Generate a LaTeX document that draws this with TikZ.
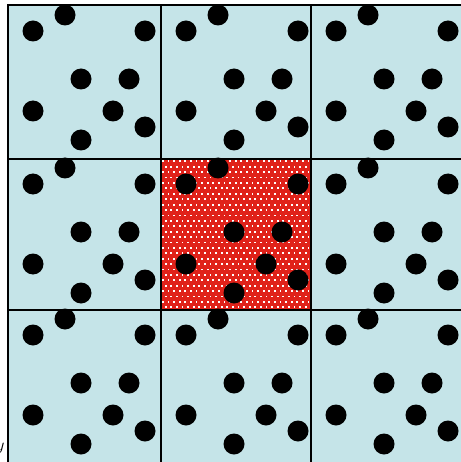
\documentclass[tikz,border=0pt]{standalone}
\usepackage{amsmath}
\definecolor{cellblue}{RGB}{197,228,232}
\definecolor{boxred}{RGB}{224,34,26}
\begin{document}
\begin{tikzpicture}[x=1pt,y=-1pt,
  gridline/.style={black,line width=1.4pt},
  particle/.style={fill=black}]
\useasboundingbox (0,0) rectangle (460,462);
% periodic images
\fill[cellblue] (8,5) rectangle (475,475);
% central box
\fill[boxred] (161,159) rectangle (311,310);
\begin{scope}
\clip (161,159) rectangle (311,310);
\foreach \r in {0,...,28}
  \foreach \c in {0,...,27}
    \fill[white] ({162+5.6*\c+2.8*mod(\r,2)},{160.5+5.4*\r}) rectangle +(1.8,1.8);
\end{scope}
% grid
\draw[gridline] (8,475)--(8,5)--(475,5);
\draw[gridline] (161,5)--(161,475);
\draw[gridline] (311,5)--(311,475);
\draw[gridline] (8,159)--(475,159);
\draw[gridline] (8,310)--(475,310);
% particles
\foreach \cx in {8,161,311}
  \foreach \cy in {6,159,310}
    \foreach \dx/\dy in {25/25,57/9,137/25,73/73,121/73,25/105,105/105,137/121,73/134}
      \fill[particle] ({\cx+\dx},{\cy+\dy}) circle (10.5);
\node[font=\LARGE,inner sep=0pt] (ylabel) at (0,448) {$y$};
\end{tikzpicture}
\end{document}
